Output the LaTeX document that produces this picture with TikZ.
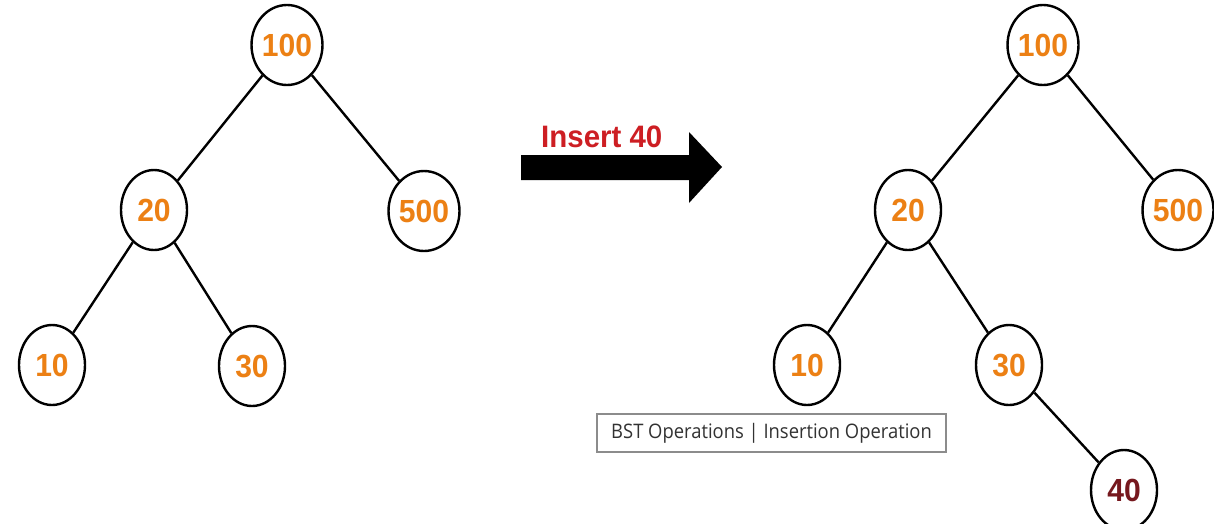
\documentclass[tikz,border=0pt]{standalone}
\usepackage{fontspec}
\setmainfont{Liberation Sans}
\newfontfamily\numfont[FakeStretch=0.94]{Liberation Sans}
\newfontfamily\lblfont[FakeStretch=0.95]{Liberation Sans}
\newfontfamily\capfont[FakeStretch=0.92]{Open Sans}
\usetikzlibrary{shapes.geometric}
\definecolor{nodeorange}{RGB}{236,128,20}
\definecolor{newred}{RGB}{118,24,30}
\definecolor{labelred}{RGB}{205,30,35}
\definecolor{captext}{RGB}{50,50,50}
\definecolor{capborder}{RGB}{140,140,140}
\tikzset{
  bst/.style={ellipse, draw=black, line width=2.4pt, fill=white,
    minimum width=66pt, minimum height=80pt, inner sep=0pt,
    font=\numfont\fontsize{32}{32}\selectfont\bfseries, text=nodeorange},
  newbst/.style={bst, text=newred},
  edge/.style={line width=2.4pt, black},
}
\begin{document}
\begin{tikzpicture}[x=1pt,y=-1pt]
\useasboundingbox (0,0) rectangle (1214,523);
% left tree
\node[bst] (L100) at (287,45) {100};
\node[bst] (L20) at (154,210) {20};
\node[bst] (L500) at (424,211) {500};
\node[bst] (L10) at (52,365) {10};
\node[bst] (L30) at (252,366) {30};
\draw[edge] (L100) -- (L20);
\draw[edge] (L100) -- (L500);
\draw[edge] (L20) -- (L10);
\draw[edge] (L20) -- (L30);
% right tree
\node[bst] (R100) at (1043,45) {100};
\node[bst] (R20) at (908,210) {20};
\node[bst] (R500) at (1178,210) {500};
\node[bst] (R10) at (807,365) {10};
\node[bst] (R30) at (1009,365) {30};
\node[newbst] (R40) at (1124,490) {40};
\draw[edge] (R100) -- (R20);
\draw[edge] (R100) -- (R500);
\draw[edge] (R20) -- (R10);
\draw[edge] (R20) -- (R30);
\draw[edge] (R30) -- (R40);
% arrow
\fill[black] (521,155) -- (689,155) -- (689,132) -- (722,167) -- (689,203) -- (689,180) -- (521,180) -- cycle;
\node[anchor=base west, inner sep=0pt, text=labelred, font=\lblfont\fontsize{31}{31}\selectfont\bfseries] (ins) at (541,147) {Insert 40};
% caption
\node[draw=capborder, line width=1.2pt, fill=white, minimum width=349pt, minimum height=38pt, inner sep=0pt,
  text=captext, font=\capfont\fontsize{20}{20}\selectfont] (cap) at (771.5,433) {BST Operations | Insertion Operation};
\end{tikzpicture}
\end{document}
